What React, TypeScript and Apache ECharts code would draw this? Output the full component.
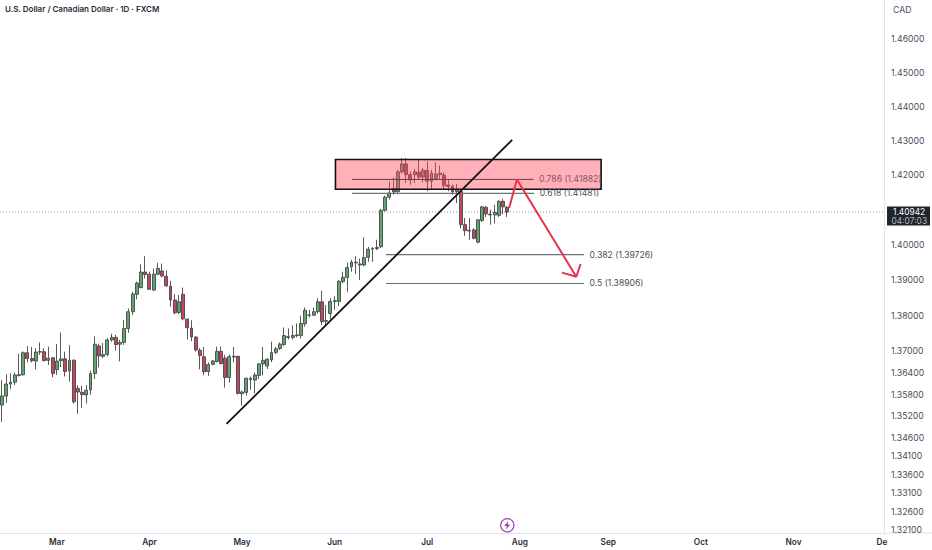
import React, { useEffect, useRef } from "react";
import * as echarts from "echarts";

const TITLE = "U.S. Dollar / Canadian Dollar · 1D · FXCM";
const CURRENCY = "CAD";
const LAST_PRICE = 1.40942;
const COUNTDOWN = "04:07:03";

// Band count of the time axis (bars plus empty future space)
const BAR_SLOTS = 210;

// Month labels and the bar slot they fall on
const monthLabels = ["Mar", "Apr", "May", "Jun", "Jul", "Aug", "Sep", "Oct", "Nov", "De"];
const monthSlots = [13, 35, 57, 79, 101, 123, 144, 166, 188, 209];

// Price-axis tick labels
const priceTicks = [
  1.46, 1.45, 1.44, 1.43, 1.42, 1.4, 1.39, 1.38, 1.37, 1.364, 1.358, 1.352, 1.346, 1.341, 1.336,
  1.331, 1.326, 1.321,
];

// Daily candles: open, close, low, high
const candles = [
  [1.3551, 1.3576, 1.3504, 1.362], [1.3576, 1.3609, 1.3557, 1.3636], [1.3609, 1.3614, 1.3595, 1.3639],
  [1.3614, 1.3634, 1.3606, 1.3641], [1.3633, 1.3635, 1.363, 1.3693], [1.3635, 1.3696, 1.3632, 1.37],
  [1.3696, 1.368, 1.3669, 1.3715], [1.368, 1.3674, 1.3669, 1.3712], [1.3673, 1.3698, 1.365, 1.3709],
  [1.3698, 1.3699, 1.369, 1.3725], [1.3699, 1.3674, 1.3672, 1.3709], [1.3675, 1.3681, 1.3662, 1.3713],
  [1.3682, 1.3638, 1.3628, 1.3684], [1.3649, 1.3673, 1.3634, 1.372], [1.3674, 1.3679, 1.3656, 1.3753],
  [1.3679, 1.3644, 1.363, 1.3699], [1.3645, 1.3675, 1.3616, 1.3717], [1.3675, 1.356, 1.3555, 1.3678],
  [1.3597, 1.3587, 1.3527, 1.3606], [1.3586, 1.358, 1.3543, 1.3604], [1.3579, 1.3592, 1.3555, 1.3606],
  [1.3593, 1.3638, 1.3579, 1.3646], [1.3638, 1.372, 1.3623, 1.3742], [1.3715, 1.3687, 1.3655, 1.3721],
  [1.3686, 1.3691, 1.3681, 1.3723], [1.3691, 1.3732, 1.3686, 1.3737], [1.3732, 1.3739, 1.3727, 1.3749],
  [1.3739, 1.3719, 1.3702, 1.3746], [1.372, 1.3725, 1.3672, 1.3732], [1.3725, 1.3764, 1.3718, 1.3788],
  [1.3764, 1.3811, 1.3752, 1.382], [1.3811, 1.3861, 1.3802, 1.3867], [1.386, 1.3892, 1.3846, 1.3896],
  [1.3879, 1.3923, 1.3877, 1.3945], [1.3923, 1.3916, 1.3905, 1.3968], [1.3917, 1.3874, 1.3872, 1.3924],
  [1.3872, 1.3917, 1.3869, 1.3933], [1.3917, 1.3933, 1.3914, 1.3949], [1.3926, 1.3912, 1.3908, 1.3947],
  [1.3911, 1.3884, 1.3881, 1.3928], [1.3883, 1.3844, 1.3825, 1.3898], [1.3844, 1.3808, 1.3804, 1.386],
  [1.3809, 1.3839, 1.3804, 1.3858], [1.386, 1.3791, 1.3787, 1.3879], [1.379, 1.3766, 1.3733, 1.3792],
  [1.3765, 1.374, 1.3728, 1.3787], [1.374, 1.3704, 1.3699, 1.3742], [1.3703, 1.3688, 1.365, 1.3709],
  [1.3685, 1.3643, 1.3634, 1.3712], [1.3644, 1.3663, 1.3632, 1.3669], [1.3664, 1.3673, 1.3661, 1.3676],
  [1.3672, 1.37, 1.3669, 1.3713], [1.37, 1.3666, 1.3664, 1.3713], [1.3681, 1.3627, 1.3599, 1.369],
  [1.3627, 1.3685, 1.3613, 1.3692], [1.3684, 1.3686, 1.3669, 1.3712], [1.3686, 1.3583, 1.358, 1.3688],
  [1.3582, 1.3587, 1.3549, 1.3591], [1.3586, 1.3625, 1.3577, 1.3627], [1.3625, 1.3621, 1.3593, 1.363],
  [1.362, 1.3634, 1.3583, 1.3641], [1.3633, 1.3665, 1.3623, 1.3667], [1.3665, 1.3675, 1.3633, 1.3712],
  [1.3659, 1.3678, 1.3651, 1.3681], [1.3676, 1.3697, 1.367, 1.3727], [1.3697, 1.3707, 1.3692, 1.3712],
  [1.3708, 1.372, 1.3704, 1.3725], [1.3719, 1.3744, 1.3715, 1.3767], [1.3739, 1.3741, 1.3733, 1.3764],
  [1.3739, 1.3744, 1.3733, 1.3773], [1.3744, 1.3746, 1.3739, 1.3778], [1.3744, 1.3778, 1.3736, 1.38],
  [1.3777, 1.3815, 1.3769, 1.3823], [1.3801, 1.3802, 1.3795, 1.3816], [1.3801, 1.3811, 1.3799, 1.3823],
  [1.3811, 1.3839, 1.3806, 1.3849], [1.3839, 1.3783, 1.3773, 1.387], [1.3784, 1.3786, 1.3773, 1.383],
  [1.3806, 1.384, 1.3789, 1.3849], [1.384, 1.3842, 1.3816, 1.3855], [1.384, 1.3897, 1.3827, 1.39],
  [1.3896, 1.3908, 1.3891, 1.3924], [1.3908, 1.3936, 1.3867, 1.395], [1.3938, 1.3951, 1.3924, 1.3958],
  [1.3949, 1.3951, 1.3917, 1.3968], [1.3943, 1.3946, 1.39, 1.3961], [1.3943, 1.3964, 1.3939, 1.4022],
  [1.3965, 1.3988, 1.3952, 1.3994], [1.3988, 1.399, 1.3952, 1.3994], [1.399, 1.3993, 1.3985, 1.4015],
  [1.3995, 1.4099, 1.3991, 1.4103], [1.4099, 1.4137, 1.4096, 1.4141], [1.4137, 1.4149, 1.413, 1.4183],
  [1.4161, 1.4152, 1.4144, 1.4194], [1.4153, 1.421, 1.4149, 1.4216], [1.421, 1.4233, 1.4205, 1.425],
  [1.4233, 1.4202, 1.4178, 1.425], [1.4202, 1.4187, 1.4173, 1.4211], [1.4202, 1.421, 1.4178, 1.4218],
  [1.4209, 1.4195, 1.4187, 1.4245], [1.4195, 1.4215, 1.418, 1.4221], [1.4214, 1.4183, 1.4154, 1.424],
  [1.4183, 1.4207, 1.4159, 1.4216], [1.4191, 1.4203, 1.4187, 1.4238], [1.4202, 1.4206, 1.419, 1.4228],
  [1.4201, 1.4171, 1.4157, 1.4209], [1.4172, 1.4168, 1.4154, 1.4187], [1.4168, 1.4152, 1.4144, 1.4173],
  [1.4159, 1.4153, 1.412, 1.4175], [1.4153, 1.4058, 1.4048, 1.416], [1.4058, 1.4041, 1.4026, 1.4077],
  [1.4042, 1.404, 1.4015, 1.4077], [1.4043, 1.4019, 1.4016, 1.4048], [1.4008, 1.4072, 1.4005, 1.4072],
  [1.407, 1.4109, 1.4066, 1.4112], [1.4108, 1.4089, 1.408, 1.4112], [1.4088, 1.4086, 1.4058, 1.4101],
  [1.4086, 1.4093, 1.4062, 1.4115], [1.4085, 1.4125, 1.408, 1.4128], [1.4125, 1.4109, 1.4088, 1.4132],
  [1.4108, 1.40942, 1.408, 1.4111],
];

// Drawing tools: [bar position, price]
const trendLine = [[53.81, 1.34988], [121.67, 1.43027]];
const zone = [[79.69, 1.4246], [142.8, 1.41597]];
const arrowPath = [[120.95, 1.41059], [122.79, 1.41882], [136.9, 1.39099]];
const arrowHead = [[133.5, 1.39213], [136.9, 1.39099], [137.93, 1.3946]];

// Fibonacci levels
const fibRatios = ["0.786", "0.618", "0.382", "0.5"];
const fibPrices = [1.41882, 1.41481, 1.39726, 1.38906];
const fibStarts = [83.64, 83.64, 91.67, 91.67];
const fibEnds = [126.75, 126.9, 138.74, 138.74];
const fibTextColors = ["#8a5560", "#4a4e5a", "#4a4e5a", "#4a4e5a"];

const FONT = "Inter, 'Liberation Sans', sans-serif";
const GREEN = "#5fa56f";
const RED = "#c4465d";
const ln = (p: number) => Math.log(p);
const toCoord = (row: number[]) => [row[0], ln(row[1])];

const boltPoints = [[508.5, 520.8], [504.2, 526], [506.8, 526], [505.8, 529.8], [510.2, 524.4], [507.6, 524.4]];

export default function App() {
  const ref = useRef<HTMLDivElement>(null);

  useEffect(() => {
    const chart = echarts.init(ref.current as HTMLDivElement, undefined, { renderer: "svg" });

    const categories = Array.from({ length: BAR_SLOTS }, (_, i) => {
      const at = monthSlots.indexOf(i);
      return at >= 0 ? monthLabels[at] : "";
    });

    chart.setOption({
      animation: false,
      backgroundColor: "#ffffff",
      textStyle: { fontFamily: FONT },
      title: {
        text: TITLE,
        left: 0,
        top: 0,
        textStyle: { fontSize: 8, fontWeight: 600, color: "#2a2e39", fontFamily: FONT },
      },
      grid: { left: 0, right: 48, top: 0, bottom: 17 },
      xAxis: [
        {
          type: "category",
          data: categories,
          boundaryGap: true,
          axisLine: { show: true, onZero: false, lineStyle: { color: "#e0e3eb", width: 1 } },
          axisTick: { show: false },
          splitLine: { show: false },
          axisLabel: {
            interval: (_i: number, v: string) => v !== "",
            hideOverlap: false,
            color: "#2a2e39",
            fontSize: 8.3,
            fontWeight: 600,
            margin: 5,
            fontFamily: FONT,
          },
        },
        { type: "value", min: 0, max: BAR_SLOTS, show: false, splitLine: { show: false } },
      ],
      yAxis: {
        type: "value",
        position: "right",
        min: ln(1.32024),
        max: ln(1.47162),
        scale: true,
        axisLine: { show: true, onZero: false, lineStyle: { color: "#e0e3eb", width: 1 } },
        axisTick: { show: false },
        splitLine: { show: false },
        axisLabel: {
          customValues: priceTicks.map(ln),
          formatter: (v: number) => Math.exp(v).toFixed(5),
          color: "#4a4e5a",
          fontSize: 8.7,
          margin: 7,
          fontFamily: FONT,
        },
      },
      series: [
        {
          type: "line",
          xAxisIndex: 1,
          z: 1,
          showSymbol: false,
          silent: true,
          lineStyle: { color: "#9598a1", width: 1, type: [1, 2] },
          data: [[0, ln(LAST_PRICE)], [BAR_SLOTS, ln(LAST_PRICE)]],
        },
        {
          type: "candlestick",
          z: 2,
          barWidth: 3.4,
          itemStyle: {
            color: GREEN,
            color0: RED,
            borderColor: "#474747",
            borderColor0: "#474747",
            borderWidth: 0.9,
          },
          data: candles.map((c) => c.map(ln)),
        },
        {
          type: "custom",
          xAxisIndex: 1,
          z: 3,
          silent: true,
          data: [[zone[0][0], ln(zone[0][1]), zone[1][0], ln(zone[1][1])]],
          encode: { x: [0, 2], y: [1, 3] },
          renderItem: (_p: any, api: any) => {
            const a = api.coord([api.value(0), api.value(1)]);
            const b = api.coord([api.value(2), api.value(3)]);
            return {
              type: "rect",
              shape: { x: a[0], y: a[1], width: b[0] - a[0], height: b[1] - a[1] },
              style: { fill: "rgba(255,72,92,0.43)", stroke: "#111111", lineWidth: 1.6 },
            };
          },
        },
        {
          type: "custom",
          xAxisIndex: 1,
          z: 4,
          silent: true,
          data: fibPrices.map((p, i) => [fibStarts[i], ln(p), fibEnds[i], i]),
          encode: { x: [0, 2], y: 1 },
          renderItem: (_p: any, api: any) => {
            const a = api.coord([api.value(0), api.value(1)]);
            const b = api.coord([api.value(2), api.value(1)]);
            const i = api.value(3);
            return {
              type: "group",
              children: [
                {
                  type: "line",
                  shape: { x1: a[0], y1: a[1], x2: b[0], y2: b[1] },
                  style: { stroke: i === 0 ? "#6e3a42" : "#6f7278", lineWidth: i === 0 ? 1 : 1.2 },
                },
                {
                  type: "text",
                  x: b[0] + 5.5,
                  y: b[1],
                  style: {
                    text: `${fibRatios[i]} (${fibPrices[i].toFixed(5)})`,
                    fill: fibTextColors[i],
                    fontSize: 8.6,
                    fontFamily: FONT,
                    verticalAlign: "middle",
                  },
                },
              ],
            };
          },
        },
        {
          type: "line",
          xAxisIndex: 1,
          z: 5,
          showSymbol: false,
          silent: true,
          lineStyle: { color: "#111111", width: 1.8 },
          data: trendLine.map(toCoord),
        },
        {
          type: "line",
          xAxisIndex: 1,
          z: 6,
          showSymbol: false,
          silent: true,
          lineStyle: { color: "#e8324f", width: 2 },
          data: arrowPath.map(toCoord),
        },
        {
          type: "line",
          xAxisIndex: 1,
          z: 6,
          showSymbol: false,
          silent: true,
          lineStyle: { color: "#e8324f", width: 2 },
          data: arrowHead.map(toCoord),
        },
        {
          type: "custom",
          xAxisIndex: 1,
          z: 7,
          silent: true,
          clip: false,
          data: [[BAR_SLOTS, ln(LAST_PRICE)]],
          renderItem: (_p: any, api: any) => {
            const c = api.coord([api.value(0), api.value(1)]);
            return {
              type: "group",
              children: [
                { type: "rect", shape: { x: c[0] + 3, y: c[1] - 5.5, width: 43, height: 19 }, style: { fill: "#20242c" } },
                {
                  type: "text",
                  x: c[0] + 9,
                  y: c[1] - 0.3,
                  style: { text: LAST_PRICE.toFixed(5), fill: "#ffffff", fontSize: 8.4, fontFamily: FONT, verticalAlign: "middle" },
                },
                {
                  type: "text",
                  x: c[0] + 7.5,
                  y: c[1] + 8.6,
                  style: { text: COUNTDOWN, fill: "#b2b5be", fontSize: 8.4, fontFamily: FONT, verticalAlign: "middle" },
                },
              ],
            };
          },
        },
      ],
      graphic: [
        {
          type: "text",
          x: 893,
          y: 10,
          style: { text: CURRENCY, fill: "#4a4e5a", fontSize: 8.7, fontFamily: FONT, verticalAlign: "middle" },
        },
        { type: "line", shape: { x1: 884, y1: 533, x2: 932, y2: 533 }, style: { stroke: "#e0e3eb", lineWidth: 1 } },
        {
          type: "circle",
          shape: { cx: 507.3, cy: 525.3, r: 6.6 },
          style: { fill: "#ffffff", stroke: "#9c3fb5", lineWidth: 1.2 },
        },
        { type: "polygon", shape: { points: boltPoints }, style: { fill: "#9c3fb5" } },
      ],
    });

    return () => chart.dispose();
  }, []);

  return <div ref={ref} style={{ position: "fixed", left: 0, top: 0, width: 932, height: 550, background: "#fff" }} />;
}
